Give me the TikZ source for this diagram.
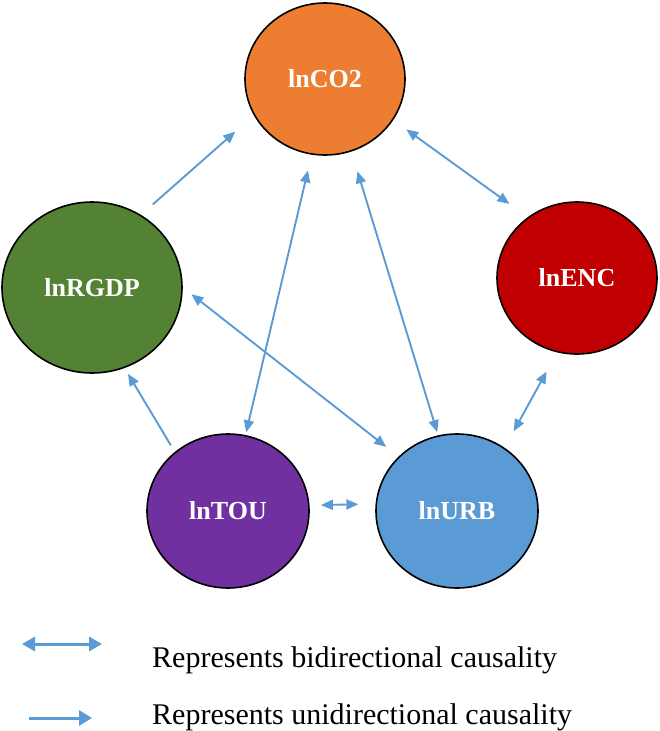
\documentclass[tikz,border=0pt]{standalone}
\usepackage{fontspec}
\setmainfont{Liberation Serif}
\usetikzlibrary{shapes.geometric,arrows.meta}
\definecolor{cOrange}{HTML}{ED7D31}
\definecolor{cGreen}{HTML}{548235}
\definecolor{cRed}{HTML}{C00000}
\definecolor{cPurple}{HTML}{7030A0}
\definecolor{cLight}{HTML}{5B9BD5}
\definecolor{cArrow}{HTML}{5B9BD5}
\begin{document}
\begin{tikzpicture}[x=1pt,y=-1pt,
  var/.style={ellipse, draw=black, line width=1.6pt, inner sep=0pt, text=white,
    font=\fontsize{26}{26}\selectfont\bfseries},
  link/.style={draw=cArrow, line width=1.9pt, -{Triangle[length=12pt,width=10pt]}},
  bilink/.style={draw=cArrow, line width=1.9pt, {Triangle[length=12pt,width=10pt]}-{Triangle[length=12pt,width=10pt]}},
  legbi/.style={draw=cArrow, line width=3pt, {Triangle[length=13pt,width=14pt]}-{Triangle[length=13pt,width=14pt]}},
  leguni/.style={draw=cArrow, line width=3pt, -{Triangle[length=13pt,width=15pt]}},
  legtext/.style={anchor=base west, inner sep=0pt, font=\fontsize{30}{30}\selectfont}
]
\useasboundingbox (0,0) rectangle (659,731);

\node[var, fill=cOrange, minimum width=160pt, minimum height=152pt] (co2) at (325,79) {lnCO2};
\node[var, fill=cGreen, minimum width=180pt, minimum height=171pt] (rgdp) at (92,287.5) {lnRGDP};
\node[var, fill=cRed, minimum width=160pt, minimum height=152pt] (enc) at (577,278) {lnENC};
\node[var, fill=cPurple, minimum width=162pt, minimum height=154pt] (tou) at (228,511) {lnTOU};
\node[var, fill=cLight, minimum width=162pt, minimum height=154pt] (urb) at (457,511) {lnURB};

\draw[link, shorten <=15.8pt, shorten >=24.7pt] (rgdp.56.9) -- (co2.207.5);
\draw[bilink, shorten <=16.1pt, shorten >=22.6pt] (co2.329.7) -- (enc.129.7);
\draw[bilink, shorten <=16.1pt, shorten >=2.8pt] (co2.260.6) -- (tou.77);
\draw[bilink, shorten <=20.6pt, shorten >=3.3pt] (co2.290.5) -- (urb.104.4);
\draw[bilink, shorten <=11pt, shorten >=15.7pt] (rgdp.0.85) -- (urb.137.6);
\draw[link, shorten <=7.6pt, shorten >=6.7pt] (tou.132.2) -- (rgdp.292.8);
\draw[bilink, shorten <=18.9pt, shorten >=21.8pt] (urb.53.4) -- (enc.255.8);
\draw[bilink, shorten <=11.3pt, shorten >=17.2pt] (tou.4.35) -- (urb.175.9);

\coordinate (b1) at (22,644);
\coordinate (b2) at (102,644);
\draw[legbi] (b1) -- (b2);
\coordinate (u1) at (29,718);
\coordinate (u2) at (92,718);
\draw[leguni] (u1) -- (u2);

\node[legtext] (t1) at (152,667) {Represents bidirectional causality};
\node[legtext] (t2) at (152,724) {Represents unidirectional causality};
\end{tikzpicture}
\end{document}
